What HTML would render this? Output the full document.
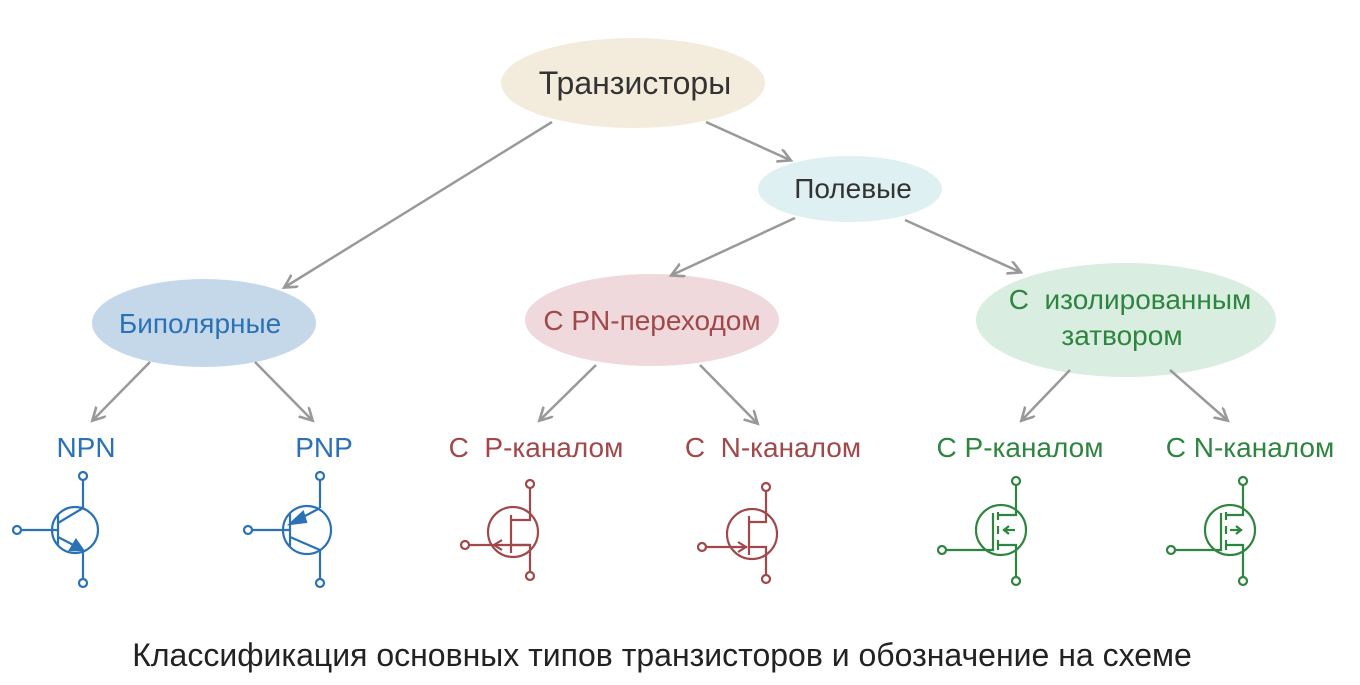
<!DOCTYPE html>
<html><head><meta charset="utf-8"><style>
body{margin:0;background:#fff;width:1360px;height:680px;overflow:hidden}
</style></head><body>
<svg width="1360" height="680" xmlns="http://www.w3.org/2000/svg">
<defs><marker id="a" markerWidth="16" markerHeight="16" refX="12" refY="7" orient="auto" markerUnits="userSpaceOnUse"><path d="M0,0 L13,7 L0,14" fill="none" stroke="#999" stroke-width="2.6"/></marker></defs>
<ellipse cx="633" cy="83" rx="132" ry="45" fill="#f3ecdc"/>
<ellipse cx="850" cy="189" rx="92" ry="33" fill="#dff0f3"/>
<ellipse cx="204" cy="323" rx="112" ry="44" fill="#c5d8ea"/>
<ellipse cx="652" cy="320" rx="127" ry="46" fill="#efd9dc"/>
<ellipse cx="1126" cy="320" rx="150" ry="57" fill="#d9ede0"/>
<g stroke="#999" stroke-width="2.5" marker-end="url(#a)">
<line x1="552" y1="122" x2="285" y2="287"/>
<line x1="706" y1="122" x2="790" y2="160"/>
<line x1="795" y1="218" x2="672" y2="275"/>
<line x1="905" y1="220" x2="1020" y2="272"/>
<line x1="150" y1="362" x2="93" y2="420"/>
<line x1="255" y1="362" x2="312" y2="420"/>
<line x1="596" y1="365" x2="540" y2="420"/>
<line x1="700" y1="365" x2="757" y2="423"/>
<line x1="1070" y1="370" x2="1022" y2="420"/>
<line x1="1170" y1="370" x2="1227" y2="420"/>
</g>
<g font-size="28" font-family="Liberation Sans, Arial, sans-serif">
<text x="635" y="94" text-anchor="middle" fill="#333" font-size="32">Транзисторы</text>
<text x="853" y="198" text-anchor="middle" fill="#333">Полевые</text>
<text x="200" y="333" text-anchor="middle" fill="#2a72b5">Биполярные</text>
<text x="652" y="330" text-anchor="middle" fill="#a0484a">С PN-переходом</text>
<text x="1130" y="309" text-anchor="middle" fill="#2e8540">С&#160; изолированным</text>
<text x="1122" y="345" text-anchor="middle" fill="#2e8540">затвором</text>
<text x="86" y="457" text-anchor="middle" fill="#2a72b5">NPN</text>
<text x="324" y="457" text-anchor="middle" fill="#2a72b5">PNP</text>
<text x="536" y="457" text-anchor="middle" fill="#a0484a">С&#160; P-каналом</text>
<text x="773" y="457" text-anchor="middle" fill="#a0484a">С&#160; N-каналом</text>
<text x="1020" y="457" text-anchor="middle" fill="#2e8540">С P-каналом</text>
<text x="1250" y="457" text-anchor="middle" fill="#2e8540">С N-каналом</text>
<text x="662" y="666" text-anchor="middle" fill="#222" font-size="32">Классификация основных типов транзисторов и обозначение на схеме</text>
</g>
<!-- NPN -->
<g stroke="#2a72b5" stroke-width="2.2" fill="none">
<circle cx="75" cy="530" r="23"/>
<line x1="21" y1="530" x2="58" y2="530"/><circle cx="17" cy="530" r="4" fill="#fff"/>
<line x1="58" y1="515" x2="58" y2="545"/>
<line x1="58" y1="523" x2="83" y2="508"/><line x1="83" y1="508" x2="83" y2="480"/><circle cx="83" cy="476" r="4" fill="#fff"/>
<line x1="58" y1="537" x2="83" y2="550"/><line x1="83" y1="550" x2="83" y2="579"/><circle cx="83" cy="583" r="4" fill="#fff"/>
<path d="M83,550 L70,550 L76,540 Z" fill="#2a72b5"/>
</g>
<!-- PNP -->
<g stroke="#2a72b5" stroke-width="2.2" fill="none">
<circle cx="307" cy="530" r="24"/>
<line x1="252" y1="530" x2="290" y2="530"/><circle cx="248" cy="530" r="4" fill="#fff"/>
<line x1="290" y1="514" x2="290" y2="546"/>
<line x1="290" y1="524" x2="320" y2="508"/><line x1="320" y1="508" x2="320" y2="480"/><circle cx="320" cy="476" r="4" fill="#fff"/>
<line x1="290" y1="537" x2="320" y2="550"/><line x1="320" y1="550" x2="320" y2="579"/><circle cx="320" cy="583" r="4" fill="#fff"/>
<path d="M290,524 L303,512 L306,522 Z" fill="#2a72b5"/>
</g>
<!-- JFET P -->
<g stroke="#a0484a" stroke-width="2.2" fill="none">
<circle cx="513" cy="532" r="25"/>
<line x1="469" y1="545" x2="530" y2="545"/><circle cx="465" cy="545" r="4" fill="#fff"/>
<line x1="511" y1="515" x2="511" y2="553"/>
<path d="M511,520 H530 V488"/><circle cx="530" cy="484" r="4" fill="#fff"/>
<path d="M511,545 H530 V572"/><circle cx="530" cy="576" r="4" fill="#fff"/>
<path d="M502,540 L494,545 L502,550"/>
</g>
<!-- JFET N -->
<g stroke="#a0484a" stroke-width="2.2" fill="none">
<circle cx="752" cy="534" r="25"/>
<line x1="706" y1="547" x2="747" y2="547"/><circle cx="702" cy="547" r="4" fill="#fff"/>
<line x1="749" y1="516" x2="749" y2="555"/>
<path d="M749,522 H766 V491"/><circle cx="766" cy="487" r="4" fill="#fff"/>
<path d="M749,547 H766 V575"/><circle cx="766" cy="579" r="4" fill="#fff"/>
<path d="M738,542 L746,547 L738,552"/>
</g>
<!-- MOSFET P -->
<g stroke="#2e8540" stroke-width="2.2" fill="none">
<circle cx="1001" cy="530" r="25"/>
<path d="M946,550 H993 V513"/><circle cx="942" cy="550" r="4" fill="#fff"/>
<line x1="998" y1="512" x2="998" y2="520"/><line x1="998" y1="526" x2="998" y2="534"/><line x1="998" y1="540" x2="998" y2="550"/>
<path d="M998,515 H1016 V485"/><circle cx="1016" cy="481" r="4" fill="#fff"/>
<path d="M998,545 H1016 V577"/><circle cx="1016" cy="581" r="4" fill="#fff"/>
<line x1="1003" y1="530" x2="1015" y2="530"/><path d="M1009,526 L1004,530 L1009,534"/>
</g>
<!-- MOSFET N -->
<g stroke="#2e8540" stroke-width="2.2" fill="none">
<circle cx="1230" cy="530" r="25"/>
<path d="M1175,550 H1221 V513"/><circle cx="1171" cy="550" r="4" fill="#fff"/>
<line x1="1226" y1="512" x2="1226" y2="520"/><line x1="1226" y1="526" x2="1226" y2="534"/><line x1="1226" y1="540" x2="1226" y2="550"/>
<path d="M1226,515 H1243 V485"/><circle cx="1243" cy="481" r="4" fill="#fff"/>
<path d="M1226,545 H1243 V577"/><circle cx="1243" cy="581" r="4" fill="#fff"/>
<line x1="1230" y1="530" x2="1242" y2="530"/><path d="M1236,526 L1241,530 L1236,534"/>
</g>
</svg>
</body></html>
